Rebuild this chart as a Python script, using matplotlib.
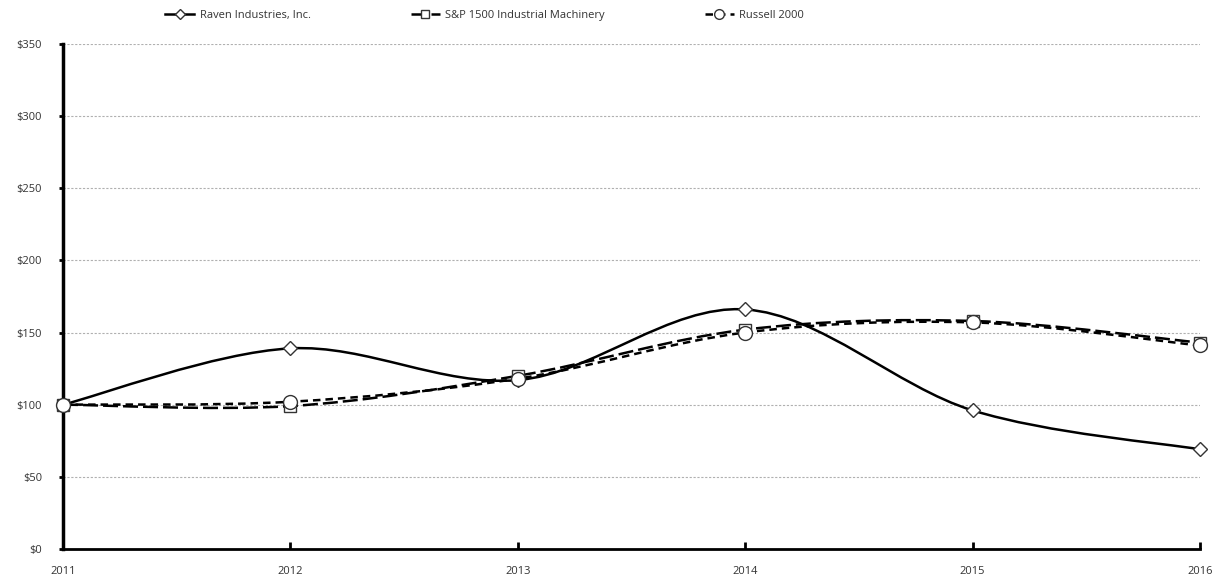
import matplotlib.pyplot as plt
from matplotlib.path import Path
from matplotlib.patches import PathPatch
from matplotlib.lines import Line2D

plt.rcParams['font.family'] = ['Open Sans', 'DejaVu Sans']

years = [2011, 2012, 2013, 2014, 2015, 2016]
raven = [100, 139, 117, 166, 96, 69]
sp1500 = [100, 99, 120, 152, 158, 143]
russell = [100, 102, 118, 150, 157, 141]
y_ticks = [0, 50, 100, 150, 200, 250, 300, 350]
y_labels = ['$0', '$50', '$100', '$150', '$200', '$250', '$300', '$350']


# Excel style smoothed line: cubic bezier through the points
def smooth_path(xs, ys):
    verts = [(xs[0], ys[0])]
    codes = [Path.MOVETO]
    n = len(xs)
    for i in range(n - 1):
        x0, y0 = (xs[i - 1], ys[i - 1]) if i > 0 else (xs[i], ys[i])
        x1, y1 = xs[i], ys[i]
        x2, y2 = xs[i + 1], ys[i + 1]
        x3, y3 = (xs[i + 2], ys[i + 2]) if i + 2 < n else (x2, y2)
        c1 = (x1 + (x2 - x0) / 6, y1 + (y2 - y0) / 6)
        c2 = (x2 - (x3 - x1) / 6, y2 - (y3 - y1) / 6)
        verts += [c1, c2, (x2, y2)]
        codes += [Path.CURVE4] * 3
    return Path(verts, codes)


fig = plt.figure(figsize=(12.22, 5.79), dpi=100)
ax = fig.add_axes([0.0516, 0.052, 0.9304, 0.872])

series = [
    ('Raven Industries, Inc.', raven, '-', 'D', 7),
    ('S&P 1500 Industrial Machinery', sp1500, (0, (6, 2)), 's', 9),
    ('Russell 2000', russell, (0, (3, 2)), 'o', 10),
]
handles = []
for name, vals, ls, mk, ms in series:
    patch = PathPatch(smooth_path(years, vals), facecolor='none', edgecolor='black',
                      linewidth=1.8, linestyle=ls, zorder=3)
    ax.add_patch(patch)
    ax.plot(years, vals, linestyle='none', marker=mk, markersize=ms,
            markerfacecolor='white', markeredgecolor='#333333', markeredgewidth=1,
            zorder=4, clip_on=False)
    handles.append(Line2D([], [], color='black', linewidth=1.8, linestyle=ls, marker=mk,
                          markersize=ms * 0.7, markerfacecolor='white',
                          markeredgecolor='#333333', label=name))

ax.set_xlim(2011, 2016)
ax.set_ylim(0, 350)
ax.set_yticks(y_ticks)
ax.set_yticklabels(y_labels)
ax.set_xticks(years)
ax.yaxis.grid(True, linestyle=(0, (2, 1.5)), color='#b0b0b0', linewidth=0.8)
ax.set_axisbelow(True)

for s in ['top', 'right']:
    ax.spines[s].set_visible(False)
ax.spines['left'].set_linewidth(2.5)
ax.spines['bottom'].set_linewidth(2)
ax.tick_params(axis='y', direction='out', length=3, width=2, labelsize=8, pad=12,
               labelcolor='#333333')
ax.tick_params(axis='x', direction='in', length=5, width=2, labelsize=8, pad=12,
               labelcolor='#333333')

fig.legend(handles=handles, loc='upper left', bbox_to_anchor=(0.127, 1.0), ncol=3,
           frameon=False, fontsize=8, handlelength=2.6, handletextpad=0.5,
           columnspacing=9, labelcolor='#333333')

fig.savefig('out.png', dpi=100)
